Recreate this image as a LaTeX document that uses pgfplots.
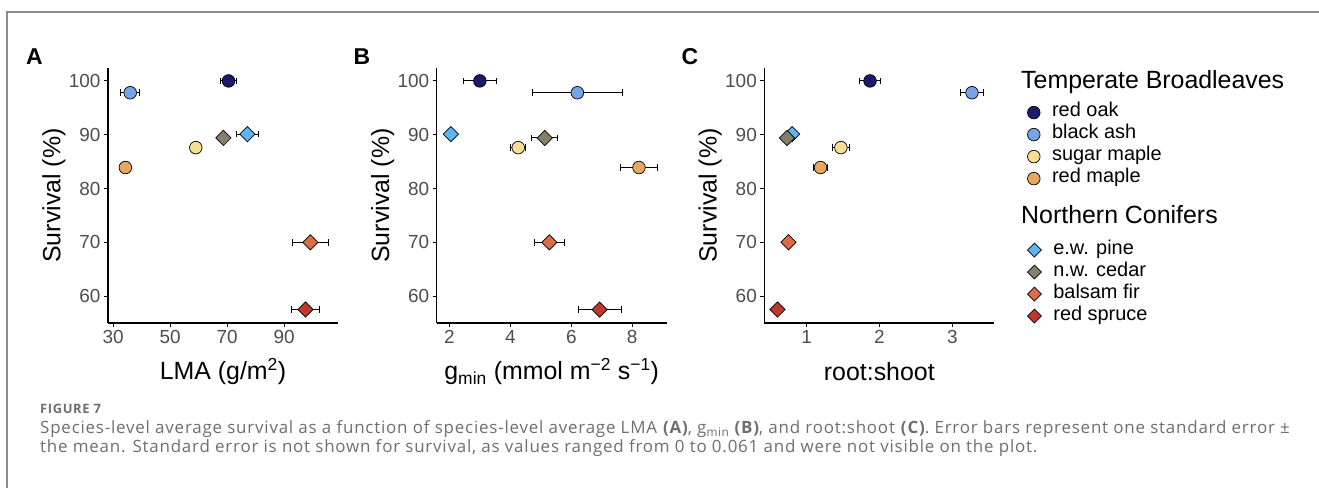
\documentclass[border=0pt]{standalone}
\usepackage{fontspec}
\setmainfont{Liberation Sans}
\newfontfamily\capfont[LetterSpace=4.7]{Open Sans}
\usepackage{pgfplots}
\pgfplotsset{compat=1.18}

\definecolor{redoak}{HTML}{1C1B6B}
\definecolor{blackash}{HTML}{74A3E6}
\definecolor{sugarmaple}{HTML}{F6DE93}
\definecolor{redmaple}{HTML}{E8A660}
\definecolor{ewpine}{HTML}{5DB6F2}
\definecolor{nwcedar}{HTML}{857F6C}
\definecolor{balsamfir}{HTML}{D96D47}
\definecolor{redspruce}{HTML}{BF3830}
\definecolor{tickgray}{HTML}{4D4D4D}
\definecolor{capgray}{HTML}{6E6E6E}
\definecolor{framegray}{HTML}{8C8C8C}

\pgfplotsset{
  panel/.style={
    scale only axis, width=230bp, height=255bp,
    axis lines*=left, axis line style={-, black, line width=1.1bp},
    tick align=outside, major tick length=4bp,
    tick style={black, line width=1bp},
    ymin=55, ymax=102.4, ytick={60,70,80,90,100},
    ticklabel style={font=\fontsize{19}{19}\selectfont, text=tickgray},
    /pgf/number format/assume math mode=true,
    every axis y label/.style={at={(axis description cs:-0.235,0.5)}, rotate=90, anchor=center,
      font=\fontsize{25}{25}\selectfont},
    every axis x label/.style={at={(axis description cs:0.5,-0.192)}, anchor=center,
      font=\fontsize{25}{25}\selectfont},
    ylabel={Survival (\%)}, clip=false,
  },
  % error bars alone, drawn before the markers
  eb/.style={forget plot, only marks, mark=none,
    error bars/.cd, x dir=both, x explicit, error mark=|,
    error bar style={black, line width=0.9bp},
    error mark options={black, mark size=3.3bp, line width=0.9bp},
    /pgfplots/.cd},
  bl/.style={only marks, mark=*, mark size=6.3bp,
    mark options={fill=#1, draw=black, line width=0.7bp}},
  cf/.style={only marks, mark=square*, mark size=5.4bp,
    mark options={rotate=45, fill=#1, draw=black, line width=0.7bp}},
  legcf/.style={only marks, mark=square*, mark size=4.9bp,
    mark options={rotate=45, fill=#1, draw=black, line width=0.7bp}},
  legsty/.style={legend cell align=left,
    legend style={draw=none, fill=none, inner sep=0pt, row sep=0pt, column sep=12bp,
      font=\fontsize{20}{22}\selectfont,
      nodes={inner sep=0pt, text height=15bp, text depth=7bp}}},
}

\begin{document}
\begin{tikzpicture}
\useasboundingbox (0,0) rectangle (1319bp,488bp);
\draw[framegray, line width=1.3bp] (7bp,0) -- (7bp,476bp) -- (1319bp,476bp);

% panel A: LMA
\begin{axis}[panel, at={(108bp,165bp)}, anchor=south west,
  xmin=28.2, xmax=108.9, xtick={30,50,70,90},
  xlabel={LMA (g/m\textsuperscript{2})}]
\addplot[eb] coordinates {
  (70.5,100) +- (2.8,0)  (36.0,97.8) +- (3.4,0) (59.0,87.6) +- (0.8,0) (34.3,83.9) +- (1.4,0)
  (77.1,90.1) +- (4.0,0) (68.7,89.4) +- (1.6,0) (99.2,70.0) +- (6.4,0) (97.5,57.5) +- (4.8,0)};
\addplot[bl=redoak]     coordinates {(70.5,100)};
\addplot[bl=blackash]   coordinates {(36.0,97.8)};
\addplot[bl=sugarmaple] coordinates {(59.0,87.6)};
\addplot[bl=redmaple]   coordinates {(34.3,83.9)};
\addplot[cf=ewpine]     coordinates {(77.1,90.1)};
\addplot[cf=nwcedar]    coordinates {(68.7,89.4)};
\addplot[cf=balsamfir]  coordinates {(99.2,70.0)};
\addplot[cf=redspruce]  coordinates {(97.5,57.5)};
\end{axis}

% panel B: gmin
\begin{axis}[panel, at={(436.7bp,165bp)}, anchor=south west,
  xmin=1.585, xmax=9.13, xtick={2,4,6,8},
  xlabel={g\textsubscript{min} (mmol m\textsuperscript{−2} s\textsuperscript{−1})}]
\addplot[eb] coordinates {
  (3.00,100) +- (0.53,0)  (6.20,97.8) +- (1.48,0) (4.26,87.6) +- (0.25,0) (8.22,83.9) +- (0.60,0)
  (2.05,90.1) +- (0.05,0) (5.13,89.4) +- (0.43,0) (5.28,70.0) +- (0.50,0) (6.93,57.5) +- (0.70,0)};
\addplot[bl=redoak]     coordinates {(3.00,100)};
\addplot[bl=blackash]   coordinates {(6.20,97.8)};
\addplot[bl=sugarmaple] coordinates {(4.26,87.6)};
\addplot[bl=redmaple]   coordinates {(8.22,83.9)};
\addplot[cf=ewpine]     coordinates {(2.05,90.1)};
\addplot[cf=nwcedar]    coordinates {(5.13,89.4)};
\addplot[cf=balsamfir]  coordinates {(5.28,70.0)};
\addplot[cf=redspruce]  coordinates {(6.93,57.5)};
\end{axis}

% panel C: root:shoot
\begin{axis}[panel, at={(764.3bp,165bp)}, anchor=south west,
  xmin=0.418, xmax=3.577, xtick={1,2,3},
  xlabel={root:shoot}, legsty,
  legend style={at={(axis description cs:1.1435,0.869)}, anchor=north west}]
\addplot[eb] coordinates {
  (1.87,100) +- (0.15,0)  (3.27,97.8) +- (0.16,0) (1.47,87.6) +- (0.12,0) (1.19,83.9) +- (0.10,0)
  (0.80,90.1) +- (0.03,0) (0.73,89.4) +- (0.03,0) (0.75,70.0) +- (0.03,0) (0.60,57.5) +- (0.03,0)};
\addplot[bl=redoak]     coordinates {(1.87,100)};
\addplot[bl=blackash]   coordinates {(3.27,97.8)};
\addplot[bl=sugarmaple] coordinates {(1.47,87.6)};
\addplot[bl=redmaple]   coordinates {(1.19,83.9)};
\addplot[forget plot, cf=ewpine]    coordinates {(0.80,90.1)};
\addplot[forget plot, cf=nwcedar]   coordinates {(0.73,89.4)};
\addplot[forget plot, cf=balsamfir] coordinates {(0.75,70.0)};
\addplot[forget plot, cf=redspruce] coordinates {(0.60,57.5)};
\legend{red oak, black ash, sugar maple, red maple}
\end{axis}

% second legend group
\begin{axis}[at={(764.3bp,165bp)}, anchor=south west, scale only axis,
  width=230bp, height=255bp, hide axis, xmin=0, xmax=1, ymin=0, ymax=1,
  legsty, legend style={at={(axis description cs:1.1435,0.33)}, anchor=north west}]
\addlegendimage{legcf=ewpine}
\addlegendentry{e.w. pine}
\addlegendimage{legcf=nwcedar}
\addlegendentry{n.w. cedar}
\addlegendimage{legcf=balsamfir}
\addlegendentry{balsam fir}
\addlegendimage{legcf=redspruce}
\addlegendentry{red spruce}
\end{axis}

\node[anchor=base west, inner sep=0, font=\fontsize{25}{25}\selectfont] at (1021bp,399bp) {Temperate Broadleaves};
\node[anchor=base west, inner sep=0, font=\fontsize{25}{25}\selectfont] at (1021bp,264bp) {Northern Conifers};

\node[anchor=base, inner sep=0, font=\bfseries\fontsize{23}{23}\selectfont] at (34.5bp,423bp) {A};
\node[anchor=base, inner sep=0, font=\bfseries\fontsize{23}{23}\selectfont] at (362bp,423bp) {B};
\node[anchor=base, inner sep=0, font=\bfseries\fontsize{23}{23}\selectfont] at (690bp,423bp) {C};

\node[anchor=base west, inner sep=0, text=capgray, font=\capfont\bfseries\fontsize{13}{13}\selectfont] at (40bp,74bp) {FIGURE 7};
\node[anchor=base west, inner sep=0, text=capgray, font=\capfont\fontsize{17}{17}\selectfont] at (40bp,54bp)
  {Species-level average survival as a function of species-level average LMA \textbf{(A)}, g\textsubscript{min} \textbf{(B)}, and root:shoot \textbf{(C)}. Error bars represent one standard error ±};
\node[anchor=base west, inner sep=0, text=capgray, font=\capfont\fontsize{17}{17}\selectfont] at (40bp,36bp)
  {the mean. Standard error is not shown for survival, as values ranged from 0 to 0.061 and were not visible on the plot.};
\end{tikzpicture}
\end{document}
